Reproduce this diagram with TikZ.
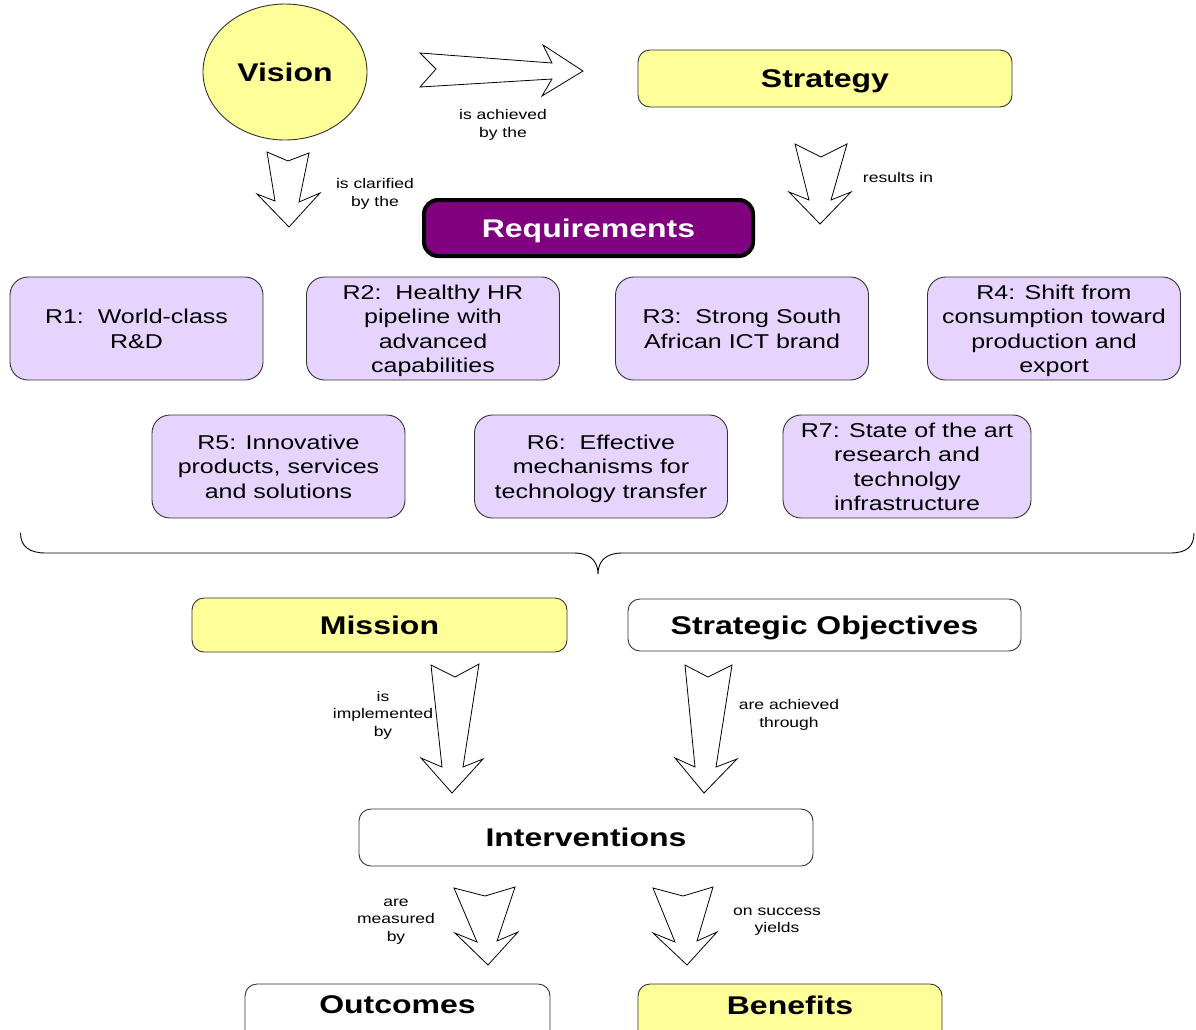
\documentclass[tikz,border=0pt]{standalone}
\usepackage{fontspec}
\setmainfont{Liberation Sans}[FakeStretch=1.25]
\usetikzlibrary{shapes.geometric}
\definecolor{lightyellow}{RGB}{255,255,153}
\definecolor{lavender}{RGB}{230,212,255}
\definecolor{reqpurple}{RGB}{128,0,128}
\definecolor{edgegray}{RGB}{50,50,50}
\begin{document}
\begin{tikzpicture}[x=1pt,y=-1pt,
  headfont/.style={font=\fontsize{25.6}{30}\selectfont\bfseries, text depth=0pt},
  rfont/.style={font=\fontsize{20}{24.5}\selectfont, text depth=0pt},
  smallfont/.style={font=\fontsize{14}{17.5}\selectfont, align=center, text depth=0pt},
  basebox/.style={draw=edgegray, line width=0.9pt, rounded corners=12pt, inner sep=0pt, align=center},
  yellowbox/.style={basebox, fill=lightyellow, headfont},
  whitebox/.style={basebox, fill=white, headfont},
  rbox/.style={basebox, fill=lavender, rfont, rounded corners=18pt, minimum width=253pt, minimum height=103pt},
  reqbox/.style={draw=black, line width=4pt, rounded corners=14pt, fill=reqpurple, text=white, headfont, inner sep=0pt},
  blockarrow/.style={draw=black, line width=0.8pt, fill=white, line join=miter}]
\useasboundingbox (0,0) rectangle (1196,1029);
\clip (0,0) rectangle (1196,1029);

% top row
\node[ellipse, draw=edgegray, line width=0.9pt, fill=lightyellow, minimum width=164pt, minimum height=136pt, inner sep=0pt, headfont] (vision) at (285,72) {Vision};
\node[yellowbox, minimum width=374pt, minimum height=57pt] (strategy) at (825,78.5) {Strategy};
\node[reqbox, minimum width=329pt, minimum height=56pt] (req) at (588.5,228) {Requirements};

% arrows top
\draw[blockarrow] (420,53) -- (436,69) -- (420,87) -- (552,79) -- (542,96) -- (583,71) -- (543,45) -- (552,63) -- cycle;
\node[smallfont] (lab1) at (503,123.5) {is achieved\\by the};
\draw[blockarrow] (267,152) -- (288,161) -- (309,153) -- (299,202) -- (320,193) -- (289,227) -- (257,194) -- (275,201) -- cycle;
\node[smallfont] (lab2) at (375,192.5) {is clarified\\by the};
\draw[blockarrow] (795,144) -- (821,157) -- (847,144) -- (831,200) -- (851,192) -- (820,224) -- (789,192) -- (809,200) -- cycle;
\node[smallfont] (lab3) at (898,177) {results in};

% requirements
\node[rbox] (r1) at (136.5,328.5) {R1:\ \ World-class\\R\&D};
\node[rbox] (r2) at (433,328.5) {R2:\ \ Healthy HR\\pipeline with\\advanced\\capabilities};
\node[rbox] (r3) at (742,328.5) {R3:\ \ Strong South\\African ICT brand};
\node[rbox] (r4) at (1054,328.5) {R4: Shift from\\consumption toward\\production and\\export};
\node[rbox] (r5) at (278.5,466.5) {R5: Innovative\\products, services\\and solutions};
\node[rbox] (r6) at (601,466.5) {R6:\ \ Effective\\mechanisms for\\technology transfer};
\node[rbox, minimum width=248pt] (r7) at (907,466.5) {R7: State of the art\\research and\\technolgy\\infrastructure};

% brace
\coordinate (bl) at (20.5,533);
\coordinate (br) at (1194,533);
\coordinate (btip) at (598,574);
\draw[black, line width=0.9pt] (bl) .. controls (20.5,547) and (30,553) .. (46,553) -- (574,553) .. controls (590,553) and (598,561) .. (btip) .. controls (598,561) and (606,553) .. (622,553) -- (1170,553) .. controls (1186,553) and (1194,547) .. (br);

% mission row
\node[yellowbox, minimum width=375pt, minimum height=54pt] (mission) at (379.5,625) {Mission};
\node[whitebox, minimum width=393pt, minimum height=52pt] (so) at (824.5,625) {Strategic Objectives};

\draw[blockarrow] (431,665) -- (455,677) -- (479,664) -- (463,767) -- (483,759) -- (452,793) -- (421,758) -- (442,767) -- cycle;
\node[smallfont] (lab4) at (383,713.5) {is\\implemented\\by};
\draw[blockarrow] (685,665) -- (708,677) -- (732,665) -- (716,767) -- (737,759) -- (704,793) -- (675,758) -- (695,767) -- cycle;
\node[smallfont] (lab5) at (789,713.5) {are achieved\\through};

\node[whitebox, minimum width=454pt, minimum height=57pt] (interv) at (586,837.5) {Interventions};

\draw[blockarrow] (454,888) -- (485,896) -- (515,887) -- (497,941) -- (518,932) -- (488,965) -- (455,933) -- (477,942) -- cycle;
\node[smallfont] (lab6) at (396,920) {are\\measured\\by};
\draw[blockarrow] (653,888) -- (683,896) -- (713,887) -- (697,941) -- (717,932) -- (687,965) -- (653,933) -- (675,942) -- cycle;
\node[smallfont] (lab7) at (777,920) {on success\\yields};

\node[whitebox, minimum width=305pt, minimum height=58pt] (outcomes) at (397.5,1013) {};
\node[headfont] (outtext) at (397.5,1005) {Outcomes};
\node[yellowbox, minimum width=304pt, minimum height=58pt] (benefits) at (790,1013) {};
\node[headfont] (bentext) at (790,1005) {Benefits};
\end{tikzpicture}
\end{document}
